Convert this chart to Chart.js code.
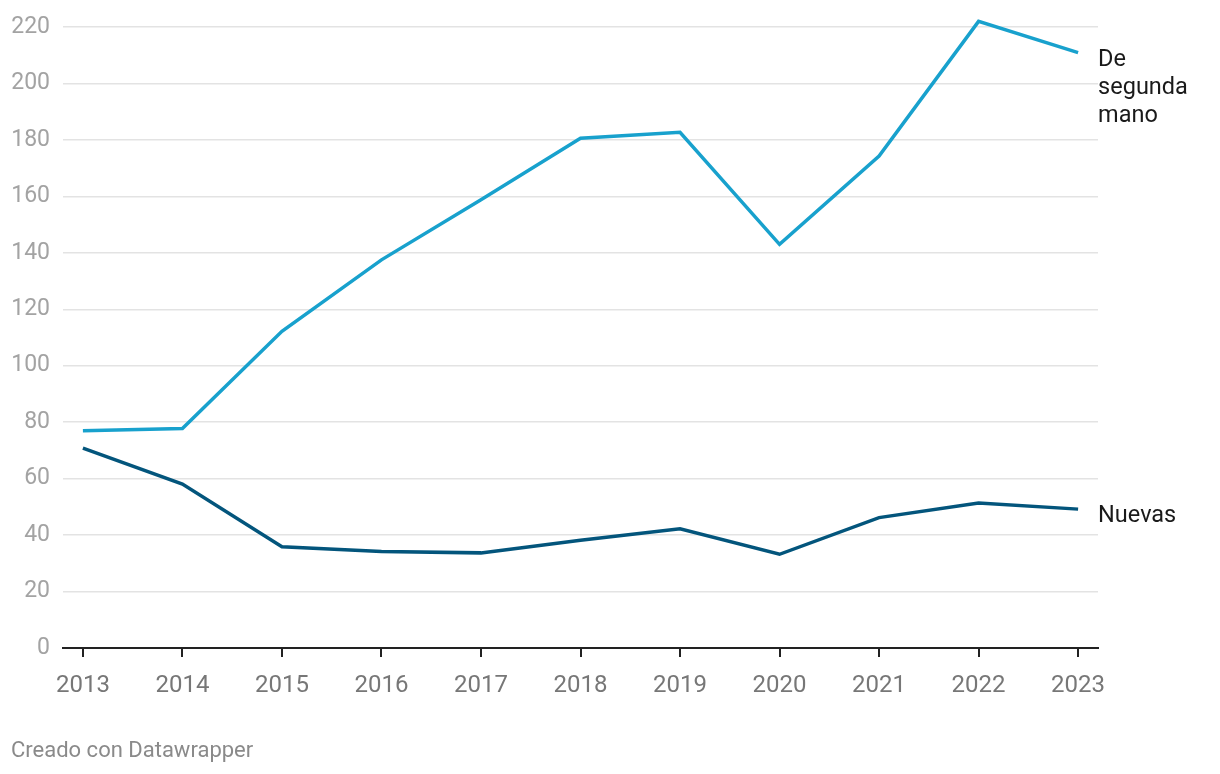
<!DOCTYPE html>
<html>
<head>
<meta charset="utf-8">
<script src="https://cdn.jsdelivr.net/npm/chart.js@4/dist/chart.umd.min.js"></script>
<style>
  html, body { margin: 0; padding: 0; background: #fff; }
  #wrap { position: relative; width: 1220px; height: 774px; }
  #footer { position: absolute; left: 11px; top: 737px; font-family: Roboto, sans-serif; font-size: 22px; color: #8a8a8a; }
</style>
</head>
<body>
<div id="wrap">
  <canvas id="c" width="1220" height="774"></canvas>
  <div id="footer">Creado con Datawrapper</div>
</div>
<script>
const years = [2013, 2014, 2015, 2016, 2017, 2018, 2019, 2020, 2021, 2022, 2023];
const segundaMano = [77.0, 77.8, 112.2, 137.5, 158.8, 180.6, 182.7, 143.0, 174.3, 222.0, 210.9];
const nuevas = [70.8, 58.1, 35.9, 34.2, 33.7, 38.2, 42.2, 33.2, 46.2, 51.4, 49.2];
const yTicks = [0, 20, 40, 60, 80, 100, 120, 140, 160, 180, 200, 220];
const seriesLabels = [["De", "segunda", "mano"], ["Nuevas"]];

const toPoints = arr => arr.map((v, i) => ({ x: years[i], y: v }));

const endLabels = {
  id: 'endLabels',
  afterDatasetsDraw(chart) {
    const ctx = chart.ctx;
    ctx.save();
    ctx.font = '23.5px Roboto, sans-serif';
    ctx.fillStyle = '#1a1a1a';
    ctx.textAlign = 'left';
    ctx.textBaseline = 'alphabetic';
    chart.data.datasets.forEach((ds, i) => {
      const meta = chart.getDatasetMeta(i);
      const pt = meta.data[meta.data.length - 1];
      const lines = seriesLabels[i];
      lines.forEach((ln, j) => {
        ctx.fillText(ln, pt.x + 20, pt.y + 13 + j * 28);
      });
    });
    ctx.restore();
  }
};

new Chart(document.getElementById('c'), {
  type: 'line',
  data: {
    datasets: [
      { label: 'De segunda mano', data: toPoints(segundaMano), borderColor: '#18a1cd', borderWidth: 3.5, pointRadius: 0, tension: 0, fill: false, clip: false },
      { label: 'Nuevas', data: toPoints(nuevas), borderColor: '#03557c', borderWidth: 3.5, pointRadius: 0, tension: 0, fill: false, clip: false }
    ]
  },
  options: {
    responsive: false,
    animation: false,
    devicePixelRatio: 1,
    layout: { padding: { left: 0, right: 122, top: 27, bottom: 76 } },
    plugins: { legend: { display: false }, tooltip: { enabled: false } },
    scales: {
      x: {
        type: 'linear',
        min: 2012.8,
        max: 2023.2,
        afterBuildTicks(scale) { scale.ticks = years.map(v => ({ value: v })); },
        afterFit(scale) { scale.height = 50; },
        ticks: {
          callback: v => String(v),
          color: '#777777',
          font: { family: 'Roboto', size: 24 },
          padding: 15,
          maxRotation: 0,
          autoSkip: false
        },
        grid: { drawOnChartArea: false, drawTicks: true, tickLength: 9, color: '#222222', lineWidth: 2 },
        border: { display: true, color: '#222222', width: 2 }
      },
      y: {
        min: 0,
        max: 220,
        afterBuildTicks(scale) { scale.ticks = yTicks.map(v => ({ value: v })); },
        afterFit(scale) { scale.width = 63; },
        ticks: {
          color: '#a3a3a3',
          font: { family: 'Roboto', size: 23 },
          padding: 13
        },
        grid: { drawTicks: false, color: '#e3e3e3', lineWidth: 1.5 },
        border: { display: false }
      }
    }
  },
  plugins: [endLabels]
});
</script>
</body>
</html>
